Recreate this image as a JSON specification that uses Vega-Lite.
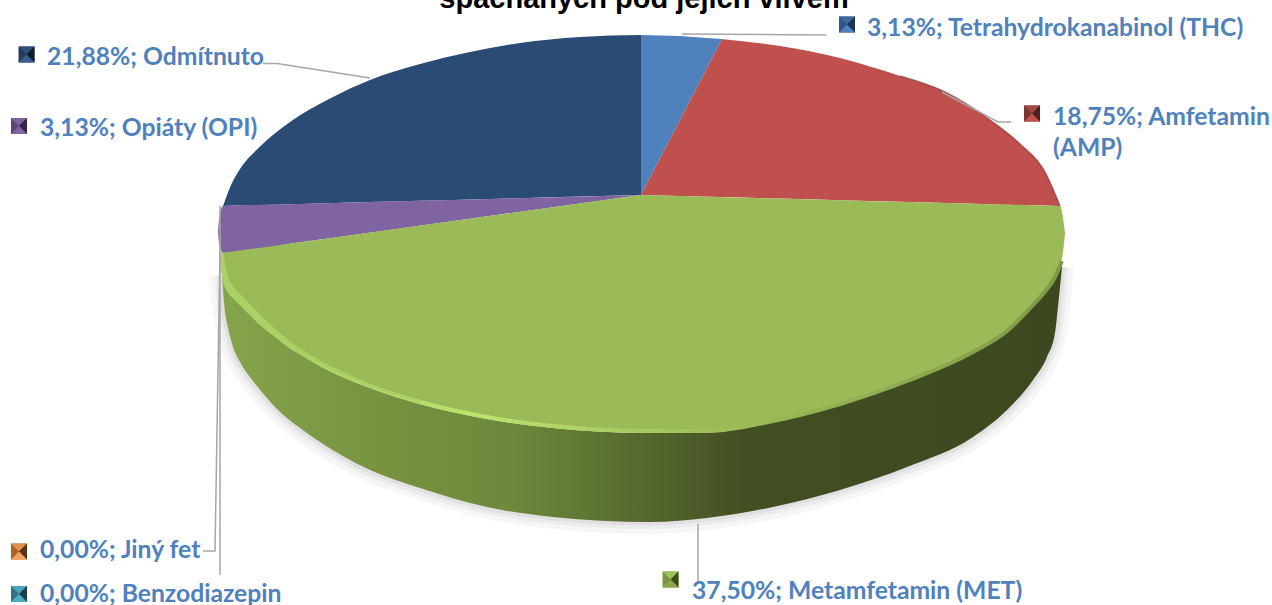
{
"$schema":"https://vega.github.io/schema/vega-lite/v6.json",
"width":1272,"height":605,"padding":0,"autosize":{"type":"none"},
"background":"white",
"config":{"view":{"stroke":null}},
"datasets":{
"slices":[
{"slice":"Odmítnuto","x":223,"y":206,"y2":206},{"slice":"Odmítnuto","x":232,"y":183,"y2":205.8},{"slice":"Odmítnuto","x":240,"y":169,"y2":205.6},{"slice":"Odmítnuto","x":260,"y":146.5,"y2":205},{"slice":"Odmítnuto","x":290,"y":122,"y2":204.2},{"slice":"Odmítnuto","x":330,"y":98.5,"y2":203.2},{"slice":"Odmítnuto","x":370,"y":80,"y2":202.1},{"slice":"Odmítnuto","x":420,"y":64,"y2":200.8},{"slice":"Odmítnuto","x":470,"y":52,"y2":199.5},{"slice":"Odmítnuto","x":520,"y":43,"y2":198.2},{"slice":"Odmítnuto","x":580,"y":37,"y2":196.6},{"slice":"Odmítnuto","x":641,"y":35,"y2":195},
{"slice":"Opiáty","x":218,"y":232,"y2":232},{"slice":"Opiáty","x":219,"y":220,"y2":243},{"slice":"Opiáty","x":223,"y":206,"y2":253},{"slice":"Opiáty","x":300,"y":204,"y2":242.2},{"slice":"Opiáty","x":400,"y":201.3,"y2":228.4},{"slice":"Opiáty","x":500,"y":198.7,"y2":214.5},{"slice":"Opiáty","x":641,"y":195,"y2":195},
{"slice":"THC","x":641,"y":35,"y2":195},{"slice":"THC","x":660,"y":35.5,"y2":158.4},{"slice":"THC","x":680,"y":36,"y2":119.9},{"slice":"THC","x":700,"y":37.5,"y2":81.4},{"slice":"THC","x":722,"y":39,"y2":39},
{"slice":"Amfetamin","part":"a","x":641,"y":195,"y2":195},{"slice":"Amfetamin","part":"a","x":660,"y":158.4,"y2":195.5},{"slice":"Amfetamin","part":"a","x":680,"y":119.9,"y2":196},{"slice":"Amfetamin","part":"a","x":700,"y":81.4,"y2":196.5},{"slice":"Amfetamin","part":"a","x":722,"y":39,"y2":197.1},
{"slice":"Amfetamin","part":"b","x":721,"y":39,"y2":197.1},{"slice":"Amfetamin","part":"b","x":780,"y":46,"y2":198.6},{"slice":"Amfetamin","part":"b","x":840,"y":58,"y2":200.2},{"slice":"Amfetamin","part":"b","x":900,"y":76,"y2":201.8},{"slice":"Amfetamin","part":"b","x":945,"y":92,"y2":203},{"slice":"Amfetamin","part":"b","x":990,"y":120,"y2":204.2},{"slice":"Amfetamin","part":"b","x":1020,"y":144,"y2":205},{"slice":"Amfetamin","part":"b","x":1045,"y":172,"y2":205.6},{"slice":"Amfetamin","part":"b","x":1060,"y":206,"y2":206},
{"slice":"Metamfetamin","part":"a","x":222,"y":253,"y2":255},{"slice":"Metamfetamin","part":"a","x":223,"y":252.9,"y2":270},{"slice":"Metamfetamin","part":"a","x":227,"y":252.3,"y2":290},{"slice":"Metamfetamin","part":"a","x":233,"y":251.5,"y2":298},{"slice":"Metamfetamin","part":"a","x":240,"y":250.5,"y2":305},{"slice":"Metamfetamin","part":"a","x":257,"y":248.2,"y2":322},{"slice":"Metamfetamin","part":"a","x":277,"y":245.4,"y2":338},{"slice":"Metamfetamin","part":"a","x":300,"y":242.2,"y2":354},{"slice":"Metamfetamin","part":"a","x":320,"y":239.4,"y2":366},{"slice":"Metamfetamin","part":"a","x":370,"y":232.5,"y2":388},{"slice":"Metamfetamin","part":"a","x":420,"y":225.6,"y2":404},{"slice":"Metamfetamin","part":"a","x":487,"y":216.3,"y2":419},{"slice":"Metamfetamin","part":"a","x":553,"y":207.2,"y2":428},{"slice":"Metamfetamin","part":"a","x":641,"y":195,"y2":433},
{"slice":"Metamfetamin","part":"b","x":640,"y":195.1,"y2":433},{"slice":"Metamfetamin","part":"b","x":707,"y":196.7,"y2":432},{"slice":"Metamfetamin","part":"b","x":773,"y":198.5,"y2":422},{"slice":"Metamfetamin","part":"b","x":840,"y":200.2,"y2":405},{"slice":"Metamfetamin","part":"b","x":907,"y":202,"y2":382},{"slice":"Metamfetamin","part":"b","x":973,"y":203.7,"y2":353},{"slice":"Metamfetamin","part":"b","x":1007,"y":204.6,"y2":332},{"slice":"Metamfetamin","part":"b","x":1033,"y":205.3,"y2":306},{"slice":"Metamfetamin","part":"b","x":1047,"y":205.7,"y2":290},{"slice":"Metamfetamin","part":"b","x":1055,"y":205.9,"y2":278},{"slice":"Metamfetamin","part":"b","x":1060,"y":206,"y2":267},{"slice":"Metamfetamin","part":"b","x":1063,"y":218,"y2":252},{"slice":"Metamfetamin","part":"b","x":1065,"y":233,"y2":234}
],
"wall":[
{"x":222,"top":255,"bottom":275,"rim":253},{"x":223,"top":270,"bottom":290,"rim":268},{"x":225,"top":280,"bottom":312,"rim":278},{"x":227,"top":290,"bottom":323,"rim":287},{"x":233,"top":298,"bottom":347,"rim":295},{"x":240,"top":305,"bottom":362,"rim":302},{"x":253,"top":318,"bottom":381,"rim":315},{"x":257,"top":322,"bottom":386,"rim":319},{"x":277,"top":338,"bottom":409,"rim":336},{"x":287,"top":346,"bottom":418,"rim":344},{"x":300,"top":354,"bottom":428,"rim":352},{"x":320,"top":366,"bottom":442,"rim":364},{"x":370,"top":388,"bottom":470,"rim":386},{"x":420,"top":404,"bottom":488,"rim":402},{"x":487,"top":419,"bottom":507,"rim":417},{"x":553,"top":428,"bottom":517,"rim":426},{"x":650,"top":433,"bottom":522,"rim":431},{"x":707,"top":432,"bottom":518,"rim":431},{"x":773,"top":422,"bottom":507,"rim":421},{"x":840,"top":405,"bottom":490,"rim":404},{"x":907,"top":382,"bottom":467,"rim":381},{"x":973,"top":353,"bottom":437,"rim":352},{"x":1007,"top":332,"bottom":410,"rim":331},{"x":1033,"top":306,"bottom":380,"rim":305},{"x":1047,"top":290,"bottom":357,"rim":289},{"x":1055,"top":278,"bottom":333,"rim":277},{"x":1059,"top":269,"bottom":297,"rim":268},{"x":1062,"top":262,"bottom":267,"rim":261}
],
"glow":[
{"x":222,"rim":254,"w":3},{"x":223,"rim":266,"w":5},{"x":225,"rim":276,"w":6},{"x":227,"rim":284,"w":7},{"x":233,"rim":292,"w":7},{"x":240,"rim":299,"w":7},{"x":253,"rim":312,"w":6.5},{"x":257,"rim":316,"w":6},{"x":277,"rim":334,"w":5},{"x":287,"rim":342,"w":4.5},{"x":300,"rim":351,"w":4},{"x":320,"rim":363,"w":3.5},{"x":370,"rim":386,"w":3},{"x":420,"rim":402,"w":2.5}
],
"leaders":[
{"leader":"Odmítnuto","i":1,"x":263,"y":63.5},{"leader":"Odmítnuto","i":2,"x":277,"y":63.5},{"leader":"Odmítnuto","i":3,"x":370,"y":78},
{"leader":"THC","i":1,"x":682,"y":34},{"leader":"THC","i":2,"x":826,"y":35},
{"leader":"Amfetamin","i":1,"x":942,"y":92},{"leader":"Amfetamin","i":2,"x":998,"y":122},{"leader":"Amfetamin","i":3,"x":1011,"y":122},
{"leader":"Jiný fet","i":1,"x":203,"y":551},{"leader":"Jiný fet","i":2,"x":215,"y":551},{"leader":"Jiný fet","i":3,"x":220,"y":250},
{"leader":"Benzodiazepin","i":1,"x":220,"y":575},{"leader":"Benzodiazepin","i":2,"x":220,"y":206},
{"leader":"Metamfetamin","i":1,"x":698,"y":524},{"leader":"Metamfetamin","i":2,"x":698,"y":582}
],
"keys":[
{"key":"THC","x":847,"y":24.5},{"key":"Amfetamin","x":1032,"y":113.5},{"key":"Metamfetamin","x":670.5,"y":579.5},{"key":"Opiáty","x":19,"y":126},{"key":"Odmítnuto","x":26.5,"y":54.5},{"key":"Jiný fet","x":19,"y":551.5},{"key":"Benzodiazepin","x":19,"y":594}
],
"labels":[
{"label":"21,88%; Odmítnuto","share":21.88,"x":47,"y":58},
{"label":"3,13%; Opiáty (OPI)","share":3.13,"x":40,"y":129},
{"label":"3,13%; Tetrahydrokanabinol (THC)","share":3.13,"x":867,"y":29},
{"label":"18,75%; Amfetamin","share":18.75,"x":1053,"y":118},
{"label":"(AMP)","share":18.75,"x":1053,"y":149},
{"label":"0,00%; Jiný fet","share":0,"x":40,"y":551},
{"label":"0,00%; Benzodiazepin","share":0,"x":40,"y":595},
{"label":"37,50%; Metamfetamin (MET)","share":37.5,"x":692,"y":592}
],
"title":[{"label":"spáchaných pod jejich vlivem","x":644,"y":8}]
},
"encoding":{
"x":{"field":"x","type":"quantitative","axis":null,"scale":{"domain":[0,1272],"nice":false,"zero":false}},
"y":{"field":"y","type":"quantitative","axis":null,"scale":{"domain":[0,605],"reverse":true,"nice":false,"zero":false}}
},
"resolve":{"scale":{"color":"independent"}},
"layer":[
{"data":{"name":"wall"},"mark":{"type":"line","stroke":"#000000","opacity":0.035,"strokeWidth":24,"interpolate":"monotone"},"encoding":{"y":{"field":"bottom","type":"quantitative"}}},
{"data":{"name":"wall"},"mark":{"type":"line","stroke":"#000000","opacity":0.04,"strokeWidth":14,"interpolate":"monotone"},"encoding":{"y":{"field":"bottom","type":"quantitative"}}},
{"data":{"name":"wall"},"mark":{"type":"line","stroke":"#000000","opacity":0.05,"strokeWidth":7,"interpolate":"monotone"},"encoding":{"y":{"field":"bottom","type":"quantitative"}}},
{"data":{"name":"wall"},"mark":{"type":"area","interpolate":"monotone","color":{"gradient":"linear","x1":0,"x2":1,"y1":0,"y2":0,"stops":[{"offset":0,"color":"#86a44b"},{"offset":0.2,"color":"#76923f"},{"offset":0.35,"color":"#6c883b"},{"offset":0.5,"color":"#56692e"},{"offset":0.62,"color":"#424f22"},{"offset":1,"color":"#3c481f"}]}},"encoding":{"y":{"field":"top","type":"quantitative"},"y2":{"field":"bottom"}}},
{"data":{"name":"slices"},"mark":{"type":"area","interpolate":"monotone"},"encoding":{"y2":{"field":"y2"},"detail":{"field":"part"},"color":{"field":"slice","type":"nominal","legend":null,"scale":{"domain":["Odmítnuto","Opiáty","THC","Amfetamin","Metamfetamin"],"range":["#2a4c74","#8064a2","#4f81bd","#c0504d","#9bbb59"]}}}},
{"data":{"name":"slices"},"transform":[{"filter":"datum.slice=='Amfetamin' && datum.x>=900"}],"mark":{"type":"line","interpolate":"monotone","stroke":"#8c3a38","opacity":0.7,"strokeWidth":1.5},"encoding":{}},
{"data":{"name":"wall"},"mark":{"type":"line","strokeWidth":4,"stroke":{"gradient":"linear","x1":0,"x2":1,"y1":0,"y2":0,"stops":[{"offset":0,"color":"#a8cf5c"},{"offset":0.3,"color":"#bde36f"},{"offset":0.5,"color":"#a6c95f"},{"offset":0.62,"color":"#9bbb59"},{"offset":1,"color":"#7f9a48"}]},"interpolate":"monotone"},"encoding":{"y":{"field":"rim","type":"quantitative"}}},
{"data":{"name":"glow"},"mark":{"type":"trail","color":"#abd164"},"encoding":{"y":{"field":"rim","type":"quantitative"},"size":{"field":"w","type":"quantitative","scale":null,"legend":null}}},
{"data":{"name":"leaders"},"mark":{"type":"line","stroke":"#a6a6a6","strokeWidth":1.5},"encoding":{"detail":{"field":"leader"},"order":{"field":"i"}}},
{"data":{"name":"keys"},"mark":{"type":"point","filled":true,"opacity":1,"size":256,"shape":"M-1,-1L1,-1L1,1L-1,1Z"},"encoding":{"color":{"field":"key","type":"nominal","legend":null,"scale":{"domain":["THC","Amfetamin","Metamfetamin","Opiáty","Odmítnuto","Jiný fet","Benzodiazepin"],"range":["#2f5686","#7c3432","#7a9640","#5a4576","#243c5c","#a9642a","#2f7284"]}}}},
{"data":{"name":"keys"},"mark":{"type":"point","filled":true,"opacity":1,"size":256,"shape":"M-1,-1L1,-1L0,0Z"},"encoding":{"color":{"field":"key","type":"nominal","legend":null,"scale":{"domain":["THC","Amfetamin","Metamfetamin","Opiáty","Odmítnuto","Jiný fet","Benzodiazepin"],"range":["#3f6ca0","#a04a48","#a3c060","#7d62a0","#2f4f78","#e0934f","#4aa5bd"]}}}},
{"data":{"name":"keys"},"mark":{"type":"point","filled":true,"opacity":1,"size":256,"shape":"M1,-1L1,1L0,0Z"},"encoding":{"color":{"field":"key","type":"nominal","legend":null,"scale":{"domain":["THC","Amfetamin","Metamfetamin","Opiáty","Odmítnuto","Jiný fet","Benzodiazepin"],"range":["#1d3450","#4c1f1e","#3e4c1c","#33264a","#0f1c2c","#5a3512","#17404c"]}}}},
{"data":{"name":"keys"},"mark":{"type":"point","filled":true,"opacity":1,"size":256,"shape":"M-1,1L0,0L1,1Z"},"encoding":{"color":{"field":"key","type":"nominal","legend":null,"scale":{"domain":["THC","Amfetamin","Metamfetamin","Opiáty","Odmítnuto","Jiný fet","Benzodiazepin"],"range":["#4f81bd","#c0504d","#8aa64e","#8064a2","#3a5f8c","#f0a060","#4bacc6"]}}}},
{"data":{"name":"labels"},"mark":{"type":"text","align":"left","baseline":"middle","font":"Lato","fontWeight":"bold","fontSize":24.7,"color":"#4f81bd"},"encoding":{"text":{"field":"label"}}},
{"data":{"name":"title"},"mark":{"type":"text","align":"center","baseline":"alphabetic","font":"Liberation Sans","fontWeight":"bold","fontSize":29,"color":"#000000"},"encoding":{"text":{"field":"label"}}}
]
}
